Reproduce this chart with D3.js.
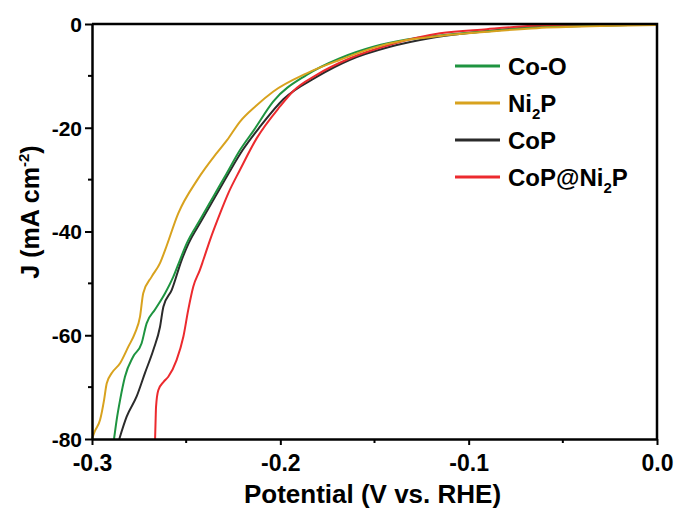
<!DOCTYPE html>
<html>
<head>
<meta charset="utf-8">
<script src="https://cdn.jsdelivr.net/npm/d3@7"></script>
<style>
  body { margin: 0; background: #fff; }
  svg { display: block; font-family: Arial, "Liberation Sans", sans-serif; font-weight: bold; }
</style>
</head>
<body>
<div id="chart"></div>
<script>
// LSV curves, [potential (V vs RHE), J (mA cm-2)]
const coO = [[-0.2883,-80],[-0.2869,-76.3],[-0.2851,-72.5],[-0.2825,-68.0],[-0.2781,-64.1],[-0.2737,-61.6],[-0.2710,-57.7],[-0.2666,-55.1],[-0.2612,-51.9],[-0.2568,-48.7],[-0.2533,-45.5],[-0.2497,-42.3],[-0.2427,-37.8],[-0.2356,-33.3],[-0.2285,-28.8],[-0.2214,-24.3],[-0.2143,-20.6],[-0.2037,-14.9],[-0.1860,-9.8],[-0.1683,-6.6],[-0.1506,-4.4],[-0.1329,-3.0],[-0.1152,-2.2],[-0.0904,-1.4],[-0.0638,-0.6],[-0.0300,-0.3],[0,-0.1]];
const ni2P = [[-0.3000,-80],[-0.2985,-78.5],[-0.2957,-76.3],[-0.2936,-72.5],[-0.2922,-69.3],[-0.2895,-67.3],[-0.2851,-65.4],[-0.2807,-62.2],[-0.2772,-59.6],[-0.2745,-56.4],[-0.2728,-51.9],[-0.2683,-48.7],[-0.2639,-46.1],[-0.2612,-43.6],[-0.2542,-36.5],[-0.2440,-30.0],[-0.2338,-24.9],[-0.2283,-22.4],[-0.2214,-18.8],[-0.2130,-15.8],[-0.2037,-13.0],[-0.1860,-9.5],[-0.1683,-6.9],[-0.1506,-4.6],[-0.1329,-3.1],[-0.1152,-2.3],[-0.0904,-1.5],[-0.0638,-0.8],[-0.0300,-0.4],[0,-0.2]];
const coP = [[-0.2855,-80],[-0.2816,-75.7],[-0.2763,-71.8],[-0.2719,-67.3],[-0.2674,-62.8],[-0.2639,-58.4],[-0.2621,-54.5],[-0.2577,-51.3],[-0.2524,-45.5],[-0.2487,-42.3],[-0.2417,-37.8],[-0.2346,-33.3],[-0.2275,-28.8],[-0.2200,-24.3],[-0.2108,-19.8],[-0.1984,-14.5],[-0.1807,-10.2],[-0.1630,-6.9],[-0.1418,-4.4],[-0.1200,-2.7],[-0.0904,-1.4],[-0.0638,-0.6],[-0.0300,-0.3],[0,-0.1]];
const coPNi2P = [[-0.2665,-80],[-0.2662,-76],[-0.2660,-73.8],[-0.2648,-70.6],[-0.2620,-69.0],[-0.2595,-68.0],[-0.2551,-64.8],[-0.2515,-60.3],[-0.2489,-55.1],[-0.2462,-50.6],[-0.2427,-47.4],[-0.2409,-45.5],[-0.2373,-41.6],[-0.2320,-36.5],[-0.2276,-32.6],[-0.2214,-28.1],[-0.2125,-22.0],[-0.2002,-15.9],[-0.1931,-12.9],[-0.1807,-9.8],[-0.1630,-6.6],[-0.1418,-4.0],[-0.1152,-1.8],[-0.0904,-1.0],[-0.0638,-0.3],[-0.0300,0],[0,0]];

const xMajor = [-0.3, -0.2, -0.1, 0];
const xMinor = [-0.25, -0.15, -0.05];
const yMajor = [0, -20, -40, -60, -80];
const yMinor = [-10, -30, -50, -70];

// legend order, drawing order is separate
const series = [
  { name: "Co-O", sub: null, data: coO, color: "#1e9440" },
  { name: "Ni", sub: "2", tail: "P", data: ni2P, color: "#d8a21e" },
  { name: "CoP", sub: null, data: coP, color: "#2b2b2b" },
  { name: "CoP@Ni", sub: "2", tail: "P", data: coPNi2P, color: "#ec2a2e" },
];
const drawOrder = [2, 0, 3, 1];

const width = 680, height = 515;
const margin = { top: 24, right: 23, bottom: 76, left: 92 };

const svg = d3.select("#chart").append("svg")
  .attr("width", width).attr("height", height);

const x = d3.scaleLinear().domain([-0.3, 0]).range([margin.left, width - margin.right]);
const y = d3.scaleLinear().domain([-80, 0]).range([height - margin.bottom, margin.top]);

const line = d3.line()
  .curve(d3.curveMonotoneX)
  .x((d) => x(d[0]))
  .y((d) => y(d[1]));

const plot = svg.append("g");
drawOrder.forEach((i) => {
  const s = series[i];
  plot.append("path")
    .datum(s.data)
    .attr("fill", "none")
    .attr("stroke", s.color)
    .attr("stroke-width", 2)
    .attr("stroke-linejoin", "round")
    .attr("d", line);
});

// axes
const xAxis = svg.append("g")
  .attr("transform", `translate(0,${height - margin.bottom})`)
  .call(d3.axisBottom(x).tickValues(xMajor).tickSize(6).tickSizeOuter(0).tickFormat((d) => d.toFixed(1)));
xAxis.append("g").selectAll("line").data(xMinor).join("line")
  .attr("x1", (d) => x(d)).attr("x2", (d) => x(d))
  .attr("y1", 0).attr("y2", 4).attr("stroke", "#000").attr("stroke-width", 2);

const yAxis = svg.append("g")
  .attr("transform", `translate(${margin.left},0)`)
  .call(d3.axisLeft(y).tickValues(yMajor).tickSize(7).tickSizeOuter(0).tickFormat((d) => String(d)));
yAxis.append("g").selectAll("line").data(yMinor).join("line")
  .attr("x1", 0).attr("x2", -4)
  .attr("y1", (d) => y(d)).attr("y2", (d) => y(d)).attr("stroke", "#000").attr("stroke-width", 2);

[xAxis, yAxis].forEach((g) => {
  g.select(".domain").attr("stroke", "#000").attr("stroke-width", 2.5);
  g.selectAll(".tick line").attr("stroke", "#000").attr("stroke-width", 2);
  g.selectAll(".tick text").attr("fill", "#000").attr("font-family", "Arial, 'Liberation Sans', sans-serif").attr("font-weight", "bold");
});
xAxis.selectAll(".tick text").attr("font-size", 23).attr("dy", "0.95em").attr("y", 10);
yAxis.selectAll(".tick text").attr("font-size", 21).attr("x", -10).attr("dy", "0.35em");

// top and right frame
svg.append("path")
  .attr("d", `M${x(-0.3)},${y(0)}H${x(0)}V${y(-80)}`)
  .attr("fill", "none").attr("stroke", "#000").attr("stroke-width", 2.5);

// axis titles
svg.append("text")
  .attr("x", (x(-0.3) + x(0)) / 2 - 2).attr("y", 503)
  .attr("text-anchor", "middle").attr("font-size", 26)
  .text("Potential (V vs. RHE)");

const yTitle = svg.append("text")
  .attr("transform", `translate(39,${212}) rotate(-90)`)
  .attr("text-anchor", "middle").attr("font-size", 25);
yTitle.append("tspan").text("J (mA cm");
yTitle.append("tspan").attr("font-size", 15).attr("dy", -10).text("-2");
yTitle.append("tspan").attr("dy", 10).text(")");

// legend
const legend = svg.append("g");
series.forEach((s, i) => {
  const ly = 66 + i * 37;
  legend.append("line")
    .attr("x1", 455).attr("x2", 500).attr("y1", ly).attr("y2", ly)
    .attr("stroke", s.color).attr("stroke-width", 3);
  const t = legend.append("text")
    .attr("x", 508).attr("y", ly).attr("dy", "0.36em").attr("font-size", 24);
  t.append("tspan").text(s.name);
  if (s.sub) {
    t.append("tspan").attr("font-size", 15).attr("dy", 7).text(s.sub);
    t.append("tspan").attr("dy", -7).text(s.tail);
  }
});
</script>
</body>
</html>
